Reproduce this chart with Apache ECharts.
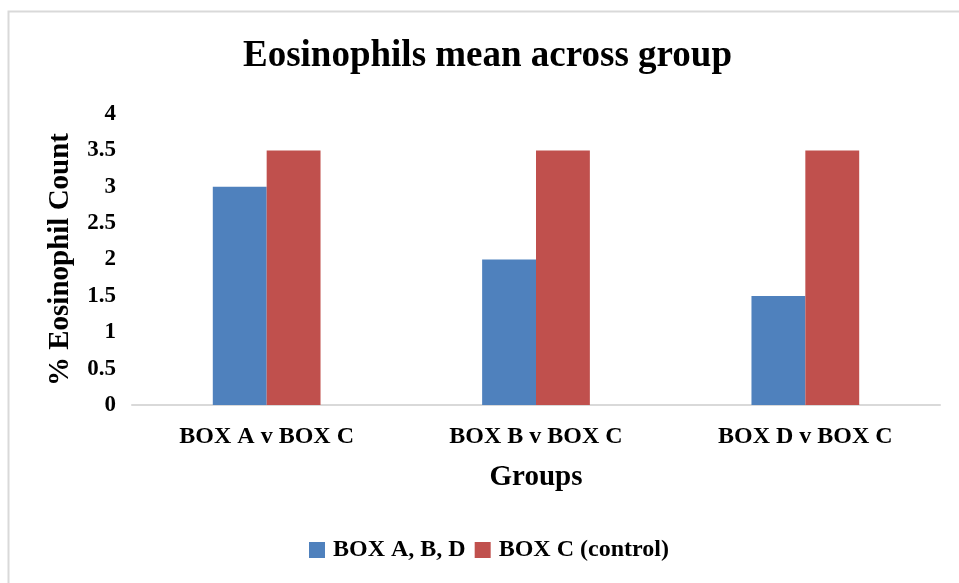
<!DOCTYPE html>
<html>
<head>
<meta charset="utf-8">
<script src="https://cdn.jsdelivr.net/npm/echarts@6/dist/echarts.min.js"></script>
<style>
  html, body { margin: 0; padding: 0; background: #ffffff; }
  #chart { width: 959px; height: 583px; }
</style>
</head>
<body>
<div id="chart"></div>
<script>
// Group comparisons on the category axis
const groups = ['BOX A v BOX C', 'BOX B v BOX C', 'BOX D v BOX C'];
// Mean eosinophil percentage per group
const treatedValues = [3, 2, 1.5];
const controlValues = [3.5, 3.5, 3.5];
const seriesNames = ['BOX A, B, D', 'BOX C (control)'];
// Value axis ticks
const yTicks = ['0', '0.5', '1', '1.5', '2', '2.5', '3', '3.5', '4'];

const serif = '"Liberation Serif", "Times New Roman", serif';
const chart = echarts.init(document.getElementById('chart'));

chart.setOption({
  backgroundColor: '#ffffff',
  animation: false,
  title: {
    text: 'Eosinophils mean across group',
    left: 238,
    top: 33,
    textStyle: { fontFamily: serif, fontWeight: 'bold', fontSize: 37, color: '#000' }
  },
  graphic: [{
    type: 'rect',
    left: 6, top: 9,
    shape: { width: 970, height: 600 },
    style: { fill: 'none', stroke: '#d9d9d9', lineWidth: 2 },
    silent: true, z: -1
  }],
  legend: {
    data: seriesNames,
    bottom: 16,
    left: 304,
    itemWidth: 16,
    itemHeight: 16,
    itemGap: 9,
    icon: 'rect',
    textStyle: { fontFamily: serif, fontWeight: 'bold', fontSize: 24, color: '#000', padding: [0, 0, 0, 3] }
  },
  grid: { left: 132, right: 19, top: 114, bottom: 178 },
  xAxis: {
    type: 'category',
    data: groups,
    name: 'Groups',
    nameLocation: 'middle',
    nameGap: 58,
    nameTextStyle: { fontFamily: serif, fontWeight: 'bold', fontSize: 29, color: '#000' },
    axisLine: { lineStyle: { color: '#d9d9d9', width: 2 } },
    axisTick: { show: false },
    axisLabel: { margin: 20, fontFamily: serif, fontWeight: 'bold', fontSize: 24, color: '#000' }
  },
  yAxis: {
    type: 'value',
    min: 0, max: 4, interval: 0.5,
    name: '% Eosinophil Count',
    nameLocation: 'middle',
    nameGap: 57,
    nameTextStyle: { fontFamily: serif, fontWeight: 'bold', fontSize: 29, color: '#000' },
    axisLine: { show: false },
    axisTick: { show: false },
    splitLine: { show: false },
    axisLabel: {
      margin: 16,
      fontFamily: serif, fontWeight: 'bold', fontSize: 23, color: '#000',
      formatter: function (v) { return yTicks[Math.round(v / 0.5)]; }
    }
  },
  series: [
    {
      name: seriesNames[0], type: 'bar', data: treatedValues,
      barWidth: '20%', barGap: '0%',
      itemStyle: { color: '#4f81bd' }
    },
    {
      name: seriesNames[1], type: 'bar', data: controlValues,
      barWidth: '20%', barGap: '0%',
      itemStyle: { color: '#c0504d' }
    }
  ]
});
</script>
</body>
</html>
